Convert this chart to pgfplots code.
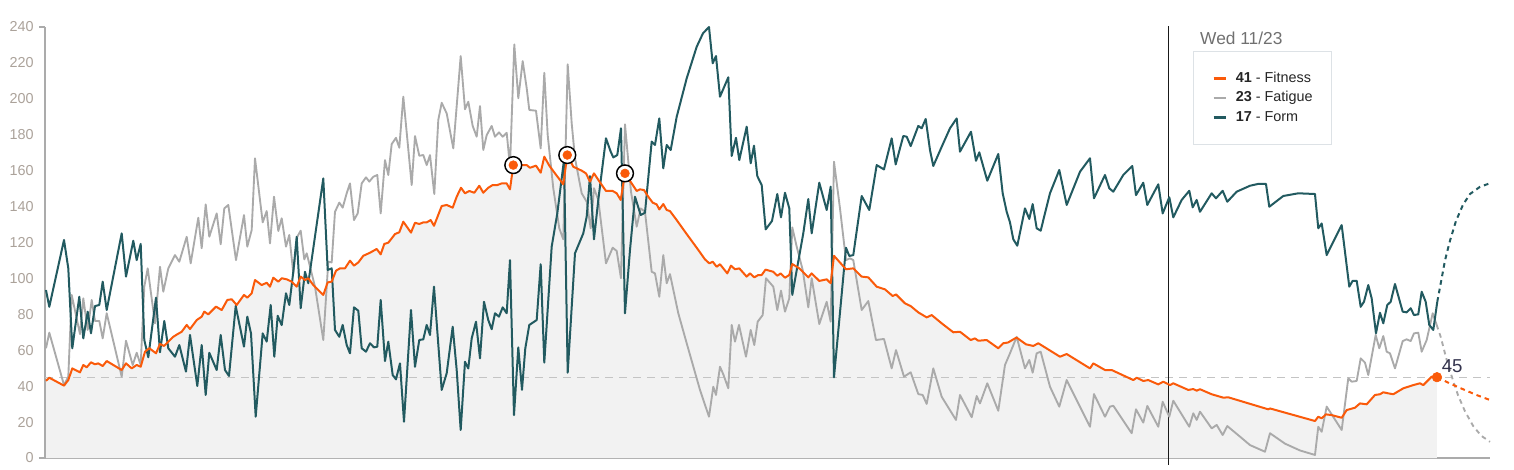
\documentclass[border=0pt]{standalone}
\usepackage{fontspec}
\setmainfont{Liberation Sans}
\usepackage{pgfplots}
\pgfplotsset{compat=1.18}
\usepackage{pgfplotstable}
\definecolor{fitc}{HTML}{FA5A0A}
\definecolor{fatc}{HTML}{AAAAAA}
\definecolor{formc}{HTML}{225A60}
\definecolor{fillc}{HTML}{F2F2F2}
\definecolor{tickc}{HTML}{ABA29A}
\definecolor{axc}{HTML}{ABABAB}
\definecolor{legc}{HTML}{DDE2E6}
\definecolor{dashc}{HTML}{C4C4C4}
\definecolor{titc}{HTML}{707070}
\definecolor{numc}{HTML}{33334D}

\pgfplotstableread{
x y
46 43.0
49.3 44.7
64 40.3
68.3 43.4
72.3 49.9
80 47.7
83.3 51.8
86.7 50.5
91 53.3
95 52.2
98.3 52.7
102.7 51.2
106.7 54.0
121.7 49.0
126 52.7
131.7 49.9
136.7 51.8
140.7 50.8
145 59.2
149.3 61.1
156 58.3
160 63.5
164 62.4
173.3 67.5
177.3 68.9
181.7 70.3
186.7 74.1
190 71.8
196.7 76.8
201.7 78.7
204.3 81.5
208.3 80.0
216 84.3
221.7 82.4
227.3 88.0
231.7 88.4
236.7 85.2
244 90.8
247.3 89.3
251.7 91.7
255 99.1
261.7 96.3
266.7 97.6
270 95.4
273.3 100.4
278.3 98.2
281.7 100.1
286.7 99.5
291.7 98.2
296.7 95.4
300.7 101.0
305 99.1
308.3 100.1
313.3 96.3
323.3 90.8
327.7 97.8
331.7 98.2
336 104.3
340 105.6
345 105.6
350 109.9
354 107.1
358.3 108.9
363.3 112.6
370 114.3
376.7 116.4
380.7 113.4
384.3 119.2
388.3 119.9
391.7 122.3
395 124.7
399.3 125.7
403.3 131.6
411 125.5
415 131.0
419.3 130.3
423.3 131.2
426.7 131.2
430.7 132.5
434 129.3
441.7 140.3
446.7 140.9
452.7 139.4
456.7 145.5
461 150.5
465 147.4
469.3 148.7
474.3 147.7
479.3 151.6
483.3 147.7
488.3 150.5
492.7 152.0
497.3 152.0
501.7 152.9
506.7 152.9
510 149.6
513.3 163.1
526.7 163.1
530 161.6
536 162.8
540.7 158.9
544.3 167.8
549.3 162.8
555 158.5
563.3 152.4
567.3 168.7
573.3 162.2
581.7 160.0
586 158.5
590 153.9
594 158.5
600 153.5
606 148.7
612.7 148.7
616.7 147.4
620.7 143.7
625 158.5
631.7 152.9
636.7 148.7
640 149.6
644 149.2
648.3 145.5
652.7 142.2
656.7 141.2
659.3 138.4
663.3 141.4
666.7 138.1
670 137.5
676.7 132.5
686.7 124.7
696.7 117.1
705 110.6
709.3 108.4
712.7 109.3
716.7 106.5
720 107.9
727.3 102.8
731 107.1
735 105.1
739.3 105.6
746.7 101.0
750 102.8
754.3 100.6
758.3 101.9
761.7 101.9
765.5 104.9
773.3 103.7
777.3 101.5
780.7 102.8
785 100.4
789.3 101.9
792.3 108.0
799.3 105.6
808.3 100.6
811.7 102.8
819.3 98.6
826.7 99.5
830.7 97.3
834 112.6
846 105.1
853.3 105.6
861.7 101.0
868.3 100.6
876.7 95.4
885 93.9
892.7 90.2
896 91.1
905 86.1
910.7 84.6
918.3 81.1
926.7 78.3
931.7 79.6
941.7 75.0
953.3 70.0
960 70.3
970.7 65.7
975 66.6
978.3 65.3
986.7 65.7
998.3 61.1
1003.3 63.9
1008 64.3
1015 66.6
1016.7 67.0
1026 63.3
1033.3 62.4
1038.3 63.9
1060 56.4
1066.7 57.9
1090 49.9
1093.3 52.7
1105 49.0
1111.7 49.0
1133.3 43.4
1136.7 44.7
1143.3 42.9
1148.3 43.4
1158.3 41.0
1163.3 42.5
1170 40.6
1173.3 41.6
1188.3 37.9
1193.3 38.4
1196.7 37.5
1200 38.3
1211.7 35.5
1223.3 33.6
1228.3 33.8
1268.3 27.1
1270 27.6
1315 20.6
1318.3 23.0
1321.7 22.1
1326 24.3
1331.7 23.9
1341.7 22.4
1346.7 26.7
1355 28.0
1360 30.4
1366.7 29.9
1375 35.1
1380 35.5
1383.3 36.6
1388.3 36.0
1393.3 35.5
1403.3 38.8
1413.3 40.6
1420 41.6
1423.3 40.6
1431.7 45.3
1437 45.0
}\fitness

\pgfplotstableread{
x y
1437 45.0
1450 41.5
1463 38.3
1476 35.2
1490 32.3
}\fitfc

\pgfplotstableread{
x y
46 61.1
49.3 69.8
64 40.6
68.3 45.3
71.7 90.8
80 69.0
83.3 88.9
87.7 71.3
91.7 88.0
95 76.3
99.3 76.3
102.7 66.6
106.7 80.6
121.7 45.3
126 65.3
132.7 51.8
136.7 58.6
140.7 51.8
144.3 95.4
147.7 105.6
155 75.0
160 106.5
163.3 92.6
168.3 105.6
175 113.0
179.3 109.3
186.7 123.2
190.7 108.4
198.3 133.8
201.7 116.8
205.7 141.2
209.3 123.2
216.7 136.2
220.7 119.0
224.3 139.0
228.3 140.9
236 110.2
244 135.3
247.3 117.7
251.7 127.0
255 166.9
262.7 131.2
266.7 137.5
270 119.5
274 145.5
278.3 126.4
281.7 133.5
286 117.7
289.3 124.2
293.3 102.8
297.3 123.2
300.7 126.6
304.3 110.6
306.7 114.0
315 95.4
323.3 65.7
328.3 109.3
331.7 108.9
335 137.1
339.3 142.2
342.7 139.4
346.7 147.4
350 152.9
354 132.5
357.7 136.2
361.7 152.9
366 156.3
369.3 153.9
373.3 156.6
377.3 157.6
380.7 136.2
385 165.9
388.3 157.6
391.7 174.8
396 178.3
399.3 172.8
403.3 201.2
411.7 152.0
415 179.3
419.3 168.3
423.3 168.7
426.7 163.1
430 168.7
434.3 147.0
438.3 188.2
441.7 197.8
446.7 191.9
453.3 172.4
460.7 223.8
465 194.2
468.3 198.4
472.7 184.9
476.7 178.9
480 196.0
483.3 171.5
486.7 179.8
491.7 184.9
495 178.9
499 181.3
502.7 178.9
506.7 181.1
510 162.2
514.3 230.3
518.3 200.3
522.7 221.0
526.7 206.0
529.3 193.8
536 193.4
540.7 172.4
544.3 214.5
547.7 179.8
553.3 150.2
559.3 127.9
563.3 121.8
567.7 219.2
571.7 186.4
575 166.9
581.7 147.4
586.7 142.7
590.7 127.9
594 150.2
598.3 143.7
606 108.4
612.7 117.1
616.7 115.3
621 100.1
625 185.8
631 148.3
636.7 128.8
640.7 139.0
645 137.1
651.7 103.7
655 102.8
659.3 89.8
663.3 113.0
666.7 97.3
670 102.4
678.3 80.6
686.7 63.9
700 37.9
709 23.0
713.3 39.7
716 35.1
720 50.8
723.3 46.6
728.3 38.8
731.7 74.1
735 64.8
739 74.1
746 56.4
750.7 71.3
754.3 62.9
757.7 75.9
762.7 79.6
766 100.1
773.3 95.4
777.3 82.4
781 93.2
785 81.5
789.3 88.9
792.3 128.4
796.7 117.7
802.7 104.7
808.3 83.9
811.7 100.1
819.3 74.6
826.7 87.0
830.7 75.9
834 165.0
840 139.0
846 110.2
850 111.2
853.3 110.2
861.7 82.4
868.3 87.4
876 65.7
884 66.3
891.7 49.9
896 60.1
904 45.3
910.7 47.7
918.3 35.6
922.7 35.1
926.7 30.1
933.3 49.9
941.7 34.1
956 21.2
960 35.1
971.7 22.7
976.7 34.5
980 30.4
987.3 41.6
998.3 26.3
1005 51.8
1010 58.3
1016.7 67.5
1025 49.9
1029.3 54.6
1032.7 47.5
1036.7 58.3
1040.7 59.2
1050 39.7
1059.3 28.6
1066.7 43.4
1090 17.4
1094 35.6
1105 23.0
1110 28.6
1113.3 29.1
1131.7 13.8
1136 27.1
1143.3 19.7
1147.3 29.0
1158.3 17.4
1162.7 31.3
1169.3 23.0
1173.3 31.9
1189.3 17.4
1193.3 24.9
1196.7 21.2
1200 25.8
1211.7 16.5
1216.7 18.4
1222.7 12.8
1227.3 17.8
1240 11.9
1250 7.2
1265 3.5
1270 13.8
1285 8.0
1300 4.2
1315 1.7
1318.3 17.4
1321.7 14.6
1326.7 28.6
1341.7 15.6
1348.3 44.4
1351.7 42.5
1356.7 42.9
1360.7 55.5
1365 53.1
1368.3 46.2
1375.7 68.5
1379.3 61.1
1383.3 67.9
1386.7 59.2
1390 58.3
1395 49.9
1402.7 65.1
1406.7 66.1
1410.7 65.1
1414 69.4
1418.3 69.8
1421.7 59.2
1426.7 65.7
1432.7 80.6
1436.7 74.1
}\fatigue

\pgfplotstableread{
x y
1436.7 74.1
1441 67
1446 56
1452 45
1458 35
1465 26
1473 18
1481 12.5
1490 9
}\fatfc

\pgfplotstableread{
x y
46 93.5
49.3 84.2
64 121.4
68.3 105.6
72.3 61.1
79.3 89.8
83.3 66.6
87.7 81.5
91 69.4
95 84.6
99.3 85.2
102.7 98.2
106.7 82.4
121.7 125.1
126 101.0
133.3 121.0
136.7 110.2
140.7 119.2
144.3 65.7
148.3 56.1
156 89.3
160 58.9
164.3 76.3
168.3 61.1
175 56.4
179.3 62.9
186 48.1
190 68.5
197.3 40.1
201.7 62.9
205.7 35.1
209.3 58.6
216.7 49.0
220.7 68.5
225 49.0
229 45.7
235.7 84.6
244 62.0
247.3 78.7
251 69.4
255.7 23.0
262.7 69.4
266.7 64.8
270.7 85.2
274.3 56.4
277.7 79.2
281.7 74.0
286 91.7
289.3 85.2
293.3 103.7
296.7 123.2
300.7 83.4
305 103.7
308.3 97.3
323.3 155.7
327.7 104.7
331.7 105.6
335 71.3
339.3 67.5
342.7 74.1
346.7 62.9
350 58.3
354 83.9
358.3 82.0
361.7 61.1
366 59.2
370 63.9
374 61.6
377.3 62.0
380.7 88.0
385 54.0
388.3 64.8
392.7 46.2
396 43.8
400 52.7
404 20.2
411 82.4
415 50.8
419.3 65.7
423.3 66.1
426.7 74.1
430 68.5
434 95.4
441.7 37.9
446.7 47.2
452.7 73.1
456.7 49.0
460.7 15.6
465 53.6
468.3 49.9
471.7 66.6
476 75.9
480 55.5
484 87.0
488.3 76.8
491.7 71.7
495 80.6
499 78.7
502.7 83.9
506.7 80.6
510 110.2
514 23.9
518.3 61.6
522 38.0
525.3 61.0
529.3 74.1
536.7 76.8
540.7 107.9
544.3 53.1
551.7 117.7
557.3 136.2
564 165.9
567.7 47.5
575 114.0
583.3 125.1
586.7 134.4
590 157.0
594 121.8
598.3 143.7
606 178.0
610.7 170.6
613.3 167.4
617.3 168.7
621 183.6
625 80.6
630 115.8
635 145.5
640.7 135.3
645 136.6
651.7 176.2
655 174.3
659.3 189.1
663.3 161.3
666.7 174.3
670.7 171.5
676.7 190.0
686.7 211.4
696.7 229.0
703 236.5
709 240.0
712.7 219.8
716 223.8
720 201.2
728.3 212.0
731.7 168.2
736 178.3
739.3 165.9
746.7 184.5
750.7 164.1
754 173.9
757.3 157.0
761.7 152.0
765.7 127.3
772 132.0
777.3 147.0
781 134.0
785 147.7
789.3 139.0
792.3 90.8
803.3 125.1
808.3 144.2
811.7 125.1
819.3 153.3
826.7 138.1
830.7 151.1
834 44.9
846 117.1
849.3 112.5
853.3 113.0
861.7 145.9
869.3 138.1
876.7 163.1
884 160.7
891.7 178.0
895.7 163.5
903.3 179.3
906.7 178.9
910.7 173.7
918.3 184.9
921.7 183.6
925.7 188.8
930 171.5
933.3 162.6
941.7 173.3
950 183.6
956.7 189.1
960 170.6
971 181.7
976 165.5
979.3 170.2
987.3 154.4
998.3 169.3
1002.7 147.4
1006.7 137.1
1010 131.2
1013.3 121.8
1017.3 118.2
1025 139.0
1029.3 133.1
1032.7 141.4
1036.7 127.9
1040.7 126.6
1050 147.4
1059.3 160.4
1066.7 140.9
1080 159.4
1090 166.9
1094 144.6
1105 157.6
1109.3 150.2
1113.3 148.3
1123.3 157.6
1132.3 162.6
1136 146.4
1143.3 153.3
1147.3 140.9
1158.3 152.4
1162.7 136.2
1169.3 145.2
1173.3 134.0
1181.7 143.7
1189.3 148.8
1192.7 139.6
1196.7 143.7
1200 137.1
1211.7 147.4
1216 144.6
1222.7 148.8
1227.3 142.7
1236.7 148.3
1250 151.6
1258 152.6
1266 152.6
1269.3 139.9
1283.3 145.9
1298.3 147.4
1315 147.0
1318.3 127.9
1321.7 130.6
1326.7 113.0
1341.7 129.7
1349.3 95.4
1352.7 98.7
1356.7 98.7
1360.7 84.2
1364 87.0
1368.3 96.3
1371.7 88.9
1376 69.4
1380 80.9
1383.3 75.0
1387.3 85.2
1390.7 87.0
1395 96.9
1402.7 81.5
1406.7 81.1
1410.7 83.4
1414 79.6
1418.3 80.0
1421.7 92.6
1425.7 87.0
1429.3 74.1
1433.3 71.3
1437.3 87.0
}\form

\pgfplotstableread{
x y
1437.3 87
1441 98
1445 110
1450 121
1456 132
1463 141
1470 147
1480 151
1490 153
}\formfc

\begin{document}
\begin{tikzpicture}
\begin{axis}[
  at={(33.75pt,8.25pt)}, anchor=south west,
  scale only axis, width=1083.75pt, height=323.25pt,
  xmin=45, xmax=1490, ymin=0, ymax=240,
  clip=false,
  axis lines*=left,
  axis line style={draw=axc, line width=0.9pt, -},
  xtick=\empty,
  ytick={0,20,...,240},
  major tick length=0pt,
  extra y ticks={0,240},
  extra y tick labels={},
  extra y tick style={major tick length=4.5pt, tick align=outside, tick style={draw=axc, line width=0.9pt}},
  yticklabel style={font=\fontsize{10.8}{12}\selectfont, text=tickc, xshift=-5pt},
  /pgf/number format/assume math mode=true,
  legend cell align=left,
  legend image code/.code={\draw[#1] (0pt,0pt) -- (9pt,0pt);},
  legend style={at={(rel axis cs:0.7945,0.9443)}, anchor=north west,
    draw=legc, line width=0.8pt, fill=white,
    font=\fontsize{10.8}{12}\selectfont, text=black!85,
    inner xsep=14pt, inner ysep=15pt, row sep=4.1pt,
    nodes={inner sep=0pt, text height=8pt, text depth=2.5pt},
    /tikz/every odd column/.append style={column sep=6.5pt}},
  every axis plot/.append style={line join=round},
]
\addlegendimage{fitc, line width=2.2pt}
\addlegendentry{\textbf{41} - Fitness}
\addlegendimage{fatc, line width=2pt}
\addlegendentry{\textbf{23} - Fatigue}
\addlegendimage{formc, line width=2pt}
\addlegendentry{\textbf{17} - Form}

\addplot[fill=fillc, draw=none, forget plot] table {\fitness} \closedcycle;
\addplot[draw=dashc, line width=0.8pt, dash pattern=on 6pt off 4.5pt, forget plot] coordinates {(45,45) (1490,45)};
\addplot[draw=black!90, line width=0.7pt, forget plot] coordinates {(1168,240.5) (1168,-4)};
\addplot[fatc, line width=1.4pt, forget plot] table {\fatigue};
\addplot[fatc, line width=1.4pt, dash pattern=on 3.5pt off 3pt, forget plot] table {\fatfc};
\addplot[formc, line width=1.5pt, forget plot] table {\form};
\addplot[formc, line width=1.5pt, dash pattern=on 3.5pt off 3pt, forget plot] table {\formfc};
\addplot[fitc, line width=1.5pt, forget plot] table {\fitness};
\addplot[fitc, line width=1.5pt, dash pattern=on 3.5pt off 3pt, forget plot] table {\fitfc};
\addplot[only marks, mark=*, mark size=6.3pt, mark options={fill=white, draw=black, line width=1.1pt}, forget plot] coordinates {(513.3,163.1) (567.3,168.7) (625,158.5)};
\addplot[only marks, mark=*, mark size=3.3pt, mark options={fill=fitc, draw=fitc}, forget plot] coordinates {(513.3,163.1) (567.3,168.7) (625,158.5)};
\addplot[only marks, mark=*, mark size=3.6pt, mark options={fill=fitc, draw=fitc}, forget plot] coordinates {(1437,45)};
\node[anchor=west, inner sep=0pt, font=\fontsize{14}{15}\selectfont, text=numc] at (axis cs:1441.5,51.2) {45};
\node[anchor=west, inner sep=0pt, font=\fontsize{13}{14}\selectfont, text=titc] at (rel axis cs:0.7993,0.9745) {Wed 11/23};
\end{axis}
\pgfresetboundingbox
\path[use as bounding box] (0,0) rectangle (1135.5pt,351.75pt);
\end{tikzpicture}
\end{document}
